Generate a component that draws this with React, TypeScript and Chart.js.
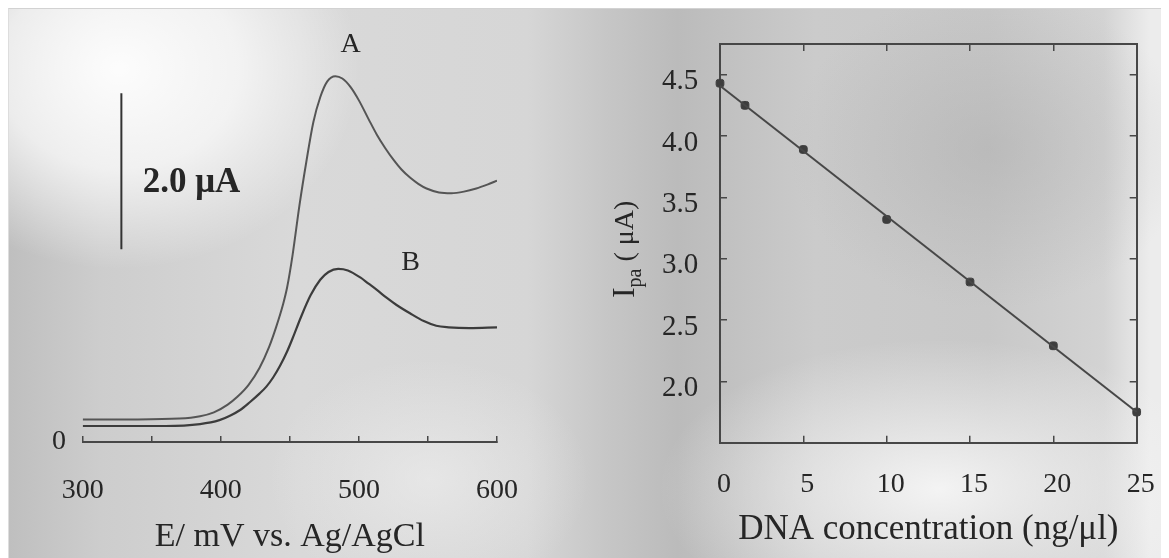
import React, { useEffect, useRef } from 'react';
import { Chart, registerables } from 'chart.js';

Chart.register(...registerables);

// ---------- Left panel: voltammograms ----------
const potentialA = [300, 340, 370, 385, 395, 405, 412, 420, 428, 435, 440, 445, 448, 452, 457, 462, 467, 472, 477, 483, 488, 494, 500, 507, 513, 519, 525, 531, 537, 543, 549, 558, 567, 576, 585, 593, 600];
const currentA = [0.29, 0.29, 0.3, 0.33, 0.38, 0.48, 0.58, 0.73, 0.95, 1.22, 1.47, 1.76, 1.98, 2.4, 3.04, 3.6, 4.1, 4.42, 4.62, 4.69, 4.66, 4.55, 4.38, 4.14, 3.94, 3.77, 3.62, 3.49, 3.39, 3.31, 3.25, 3.2, 3.19, 3.21, 3.25, 3.3, 3.35];
const potentialB = [300, 360, 385, 399, 407, 414, 421, 428, 433, 438, 443, 448, 452, 458, 465, 472, 478, 485, 492, 501, 507, 513, 520, 527, 537, 547, 556, 565, 580, 600];
const currentB = [0.205, 0.205, 0.23, 0.28, 0.34, 0.41, 0.51, 0.62, 0.71, 0.83, 0.98, 1.16, 1.33, 1.6, 1.88, 2.08, 2.18, 2.22, 2.2, 2.11, 2.03, 1.95, 1.85, 1.76, 1.65, 1.55, 1.49, 1.47, 1.46, 1.47];
const scaleBarPotential = [328, 328];
const scaleBarCurrent = [2.47, 4.47];
const voltTicks = [300, 350, 400, 450, 500, 550, 600];
const voltTickLabels = ['300', '400', '500', '600'];
const currentZeroLabel = ['0'];

// ---------- Right panel: calibration ----------
const concentration = [0, 1.5, 5, 10, 15, 20, 25];
const peakCurrent = [4.43, 4.25, 3.89, 3.32, 2.81, 2.29, 1.75];
const fitConcentration = [0, 25];
const fitCurrent = [4.41, 1.75];
const concTicks = [0, 5, 10, 15, 20, 25];
const currentTicks = [2.0, 2.5, 3.0, 3.5, 4.0, 4.5];

const SERIF = '"Liberation Serif", "Times New Roman", serif';
const INK = '#262626';
const LINE = '#474747';

const toPoints = (xs: number[], ys: number[]) => xs.map((x, i) => ({ x, y: ys[i] }));

const noPad = (s: any) => {
  s.paddingTop = 0;
  s.paddingBottom = 0;
  s.paddingLeft = 0;
  s.paddingRight = 0;
};

const leftAnnotations = {
  id: 'leftAnnotations',
  afterDatasetsDraw(chart: any) {
    const { ctx, scales } = chart;
    const x = scales.x;
    const y = scales.y;
    ctx.save();
    ctx.fillStyle = INK;
    ctx.textAlign = 'center';
    ctx.textBaseline = 'middle';
    ctx.font = `28px ${SERIF}`;
    ctx.fillText('A', x.getPixelForValue(494), y.getPixelForValue(5.09));
    ctx.fillText('B', x.getPixelForValue(537.5), y.getPixelForValue(2.3));
    ctx.font = `bold 35px ${SERIF}`;
    ctx.textAlign = 'left';
    ctx.fillText('2.0 μA', x.getPixelForValue(343.4), y.getPixelForValue(3.32));
    ctx.restore();
  },
};

const rightYTitle = {
  id: 'rightYTitle',
  afterDraw(chart: any) {
    const { ctx, chartArea } = chart;
    const cx = chartArea.left - 86;
    const cy = (chartArea.top + chartArea.bottom) / 2 + 6;
    ctx.save();
    ctx.translate(cx, cy);
    ctx.rotate(-Math.PI / 2);
    ctx.fillStyle = INK;
    ctx.textAlign = 'left';
    ctx.textBaseline = 'alphabetic';
    const bigI = `32px ${SERIF}`;
    const main = `28px ${SERIF}`;
    const sub = `20px ${SERIF}`;
    ctx.font = bigI;
    const wI = ctx.measureText('I').width;
    ctx.font = sub;
    const wSub = ctx.measureText('pa').width;
    ctx.font = main;
    const wRest = ctx.measureText(' ( μA)').width;
    let px = -(wI + wSub + wRest) / 2;
    ctx.font = bigI;
    ctx.fillText('I', px, 0);
    px += wI;
    ctx.font = sub;
    ctx.fillText('pa', px, 7);
    px += wSub;
    ctx.font = main;
    ctx.fillText(' ( μA)', px, -1);
    ctx.restore();
  },
};

export default function App() {
  const leftRef = useRef<HTMLCanvasElement>(null);
  const rightRef = useRef<HTMLCanvasElement>(null);

  useEffect(() => {
    const left = new Chart(leftRef.current as HTMLCanvasElement, {
      type: 'line',
      data: {
        datasets: [
          {
            data: toPoints(potentialA, currentA),
            borderColor: '#555555',
            borderWidth: 2,
            pointRadius: 0,
            cubicInterpolationMode: 'monotone',
          },
          {
            data: toPoints(potentialB, currentB),
            borderColor: '#3c3c3c',
            borderWidth: 2.2,
            pointRadius: 0,
            cubicInterpolationMode: 'monotone',
          },
          {
            data: toPoints(scaleBarPotential, scaleBarCurrent),
            borderColor: '#333333',
            borderWidth: 2,
            pointRadius: 0,
            tension: 0,
          },
        ],
      },
      options: {
        animation: false,
        responsive: false,
        maintainAspectRatio: false,
        layout: { padding: { left: 0, right: 63, top: 0, bottom: 0 } },
        plugins: { legend: { display: false }, tooltip: { enabled: false } },
        scales: {
          x: {
            type: 'linear',
            min: 300,
            max: 600,
            afterBuildTicks: (s: any) => {
              s.ticks = voltTicks.map((v) => ({ value: v }));
            },
            afterFit: (s: any) => {
              s.height = 116;
              noPad(s);
            },
            ticks: {
              autoSkip: false,
              maxRotation: 0,
              padding: 38,
              color: INK,
              font: { family: SERIF, size: 28 },
              callback: (v: any) => (voltTickLabels.includes(String(v)) ? String(v) : ''),
            },
            grid: { drawOnChartArea: false, drawTicks: true, tickLength: -6, color: LINE, lineWidth: 1.5 },
            border: { display: true, color: LINE, width: 2 },
            title: {
              display: true,
              text: 'E/ mV vs. Ag/AgCl',
              color: INK,
              font: { family: SERIF, size: 34 },
              padding: { top: 0, bottom: 1 },
            },
          },
          y: {
            type: 'linear',
            min: 0,
            max: 5.667,
            afterBuildTicks: (s: any) => {
              s.ticks = [{ value: 0 }];
            },
            afterFit: (s: any) => {
              s.width = 82.7;
              noPad(s);
            },
            ticks: {
              padding: 16.7,
              color: INK,
              font: { family: SERIF, size: 28 },
              callback: () => currentZeroLabel[0],
            },
            grid: { display: false, drawTicks: false },
            border: { display: false },
          },
        },
      },
      plugins: [leftAnnotations],
    } as any);

    const right = new Chart(rightRef.current as HTMLCanvasElement, {
      type: 'scatter',
      data: {
        datasets: [
          {
            data: toPoints(fitConcentration, fitCurrent),
            showLine: true,
            borderColor: LINE,
            borderWidth: 2,
            pointRadius: 0,
            clip: false,
          },
          {
            data: toPoints(concentration, peakCurrent),
            pointStyle: 'rectRounded',
            pointRadius: 4.5,
            backgroundColor: '#3d3d3d',
            borderColor: '#3d3d3d',
            borderWidth: 1,
            clip: false,
          },
        ],
      },
      options: {
        animation: false,
        responsive: false,
        maintainAspectRatio: false,
        layout: { padding: 0 },
        plugins: { legend: { display: false }, tooltip: { enabled: false } },
        scales: {
          x: {
            type: 'linear',
            position: 'bottom',
            min: 0,
            max: 25,
            afterBuildTicks: (s: any) => {
              s.ticks = concTicks.map((v) => ({ value: v }));
            },
            afterFit: (s: any) => {
              s.height = 115.3;
              noPad(s);
            },
            ticks: {
              autoSkip: false,
              maxRotation: 0,
              padding: 32.5,
              labelOffset: 4,
              color: INK,
              font: { family: SERIF, size: 28 },
              callback: (v: any) => String(v),
            },
            grid: { drawOnChartArea: false, drawTicks: true, tickLength: -7, color: LINE, lineWidth: 1.5 },
            border: { display: true, color: LINE, width: 2 },
            title: {
              display: true,
              text: 'DNA concentration (ng/μl)',
              color: INK,
              font: { family: SERIF, size: 35 },
              padding: { top: 0, bottom: 7 },
            },
          },
          x2: {
            type: 'linear',
            axis: 'x',
            position: 'top',
            min: 0,
            max: 25,
            afterBuildTicks: (s: any) => {
              s.ticks = concTicks.map((v) => ({ value: v }));
            },
            afterFit: (s: any) => {
              s.height = 44;
              noPad(s);
            },
            ticks: { display: false },
            grid: { drawOnChartArea: false, drawTicks: true, tickLength: -7, color: LINE, lineWidth: 1.5 },
            border: { display: true, color: LINE, width: 2 },
          },
          y: {
            type: 'linear',
            position: 'left',
            min: 1.5,
            max: 4.75,
            afterBuildTicks: (s: any) => {
              s.ticks = currentTicks.map((v) => ({ value: v }));
            },
            afterFit: (s: any) => {
              s.width = 160;
              noPad(s);
            },
            ticks: {
              padding: 28.7,
              labelOffset: 7,
              color: INK,
              font: { family: SERIF, size: 29 },
              callback: (v: any) => Number(v).toFixed(1),
            },
            grid: { drawOnChartArea: false, drawTicks: true, tickLength: -7, color: LINE, lineWidth: 1.5 },
            border: { display: true, color: LINE, width: 2 },
          },
          y2: {
            type: 'linear',
            axis: 'y',
            position: 'right',
            min: 1.5,
            max: 4.75,
            afterBuildTicks: (s: any) => {
              s.ticks = currentTicks.map((v) => ({ value: v }));
            },
            afterFit: (s: any) => {
              s.width = 32.3;
              noPad(s);
            },
            ticks: { display: false },
            grid: { drawOnChartArea: false, drawTicks: true, tickLength: -7, color: LINE, lineWidth: 1.5 },
            border: { display: true, color: LINE, width: 2 },
          },
        },
      },
      plugins: [rightYTitle],
    } as any);

    return () => {
      left.destroy();
      right.destroy();
    };
  }, []);

  const paper =
    'radial-gradient(ellipse 240px 200px at 110px 60px, rgba(255,255,255,0.95) 0%, rgba(255,255,255,0.7) 50%, rgba(255,255,255,0) 100%),' +
    'radial-gradient(ellipse 280px 150px at 930px 480px, rgba(248,248,248,0.9) 0%, rgba(248,248,248,0) 100%),' +
    'radial-gradient(ellipse 160px 120px at 420px 470px, rgba(240,240,240,0.6) 0%, rgba(240,240,240,0) 100%),' +
    'radial-gradient(ellipse 200px 160px at 980px 140px, rgba(170,170,170,0.45) 0%, rgba(170,170,170,0) 100%),' +
    'linear-gradient(90deg, #bfbfbf 0%, #cdcdcd 8%, #d9d9d9 25%, #d6d6d6 45%, #c6c6c6 52%, #bbbbbb 58%, #cbcbcb 70%, #c8c8c8 85%, #d3d3d3 95%, #ececec 99%)';

  return (
    <div style={{ position: 'fixed', left: 0, top: 0, width: 1169, height: 558, overflow: 'hidden', background: '#ffffff' }}>
      <div
        style={{
          position: 'absolute',
          left: 8,
          top: 8,
          width: 1152,
          height: 560,
          borderTop: '1px solid #d2d2d2',
          borderLeft: '1px solid #dddddd',
          background: paper,
        }}
      />
      <canvas ref={leftRef} width={560} height={558} style={{ position: 'absolute', left: 0, top: 0 }} />
      <canvas ref={rightRef} width={609} height={558} style={{ position: 'absolute', left: 560, top: 0 }} />
    </div>
  );
}
